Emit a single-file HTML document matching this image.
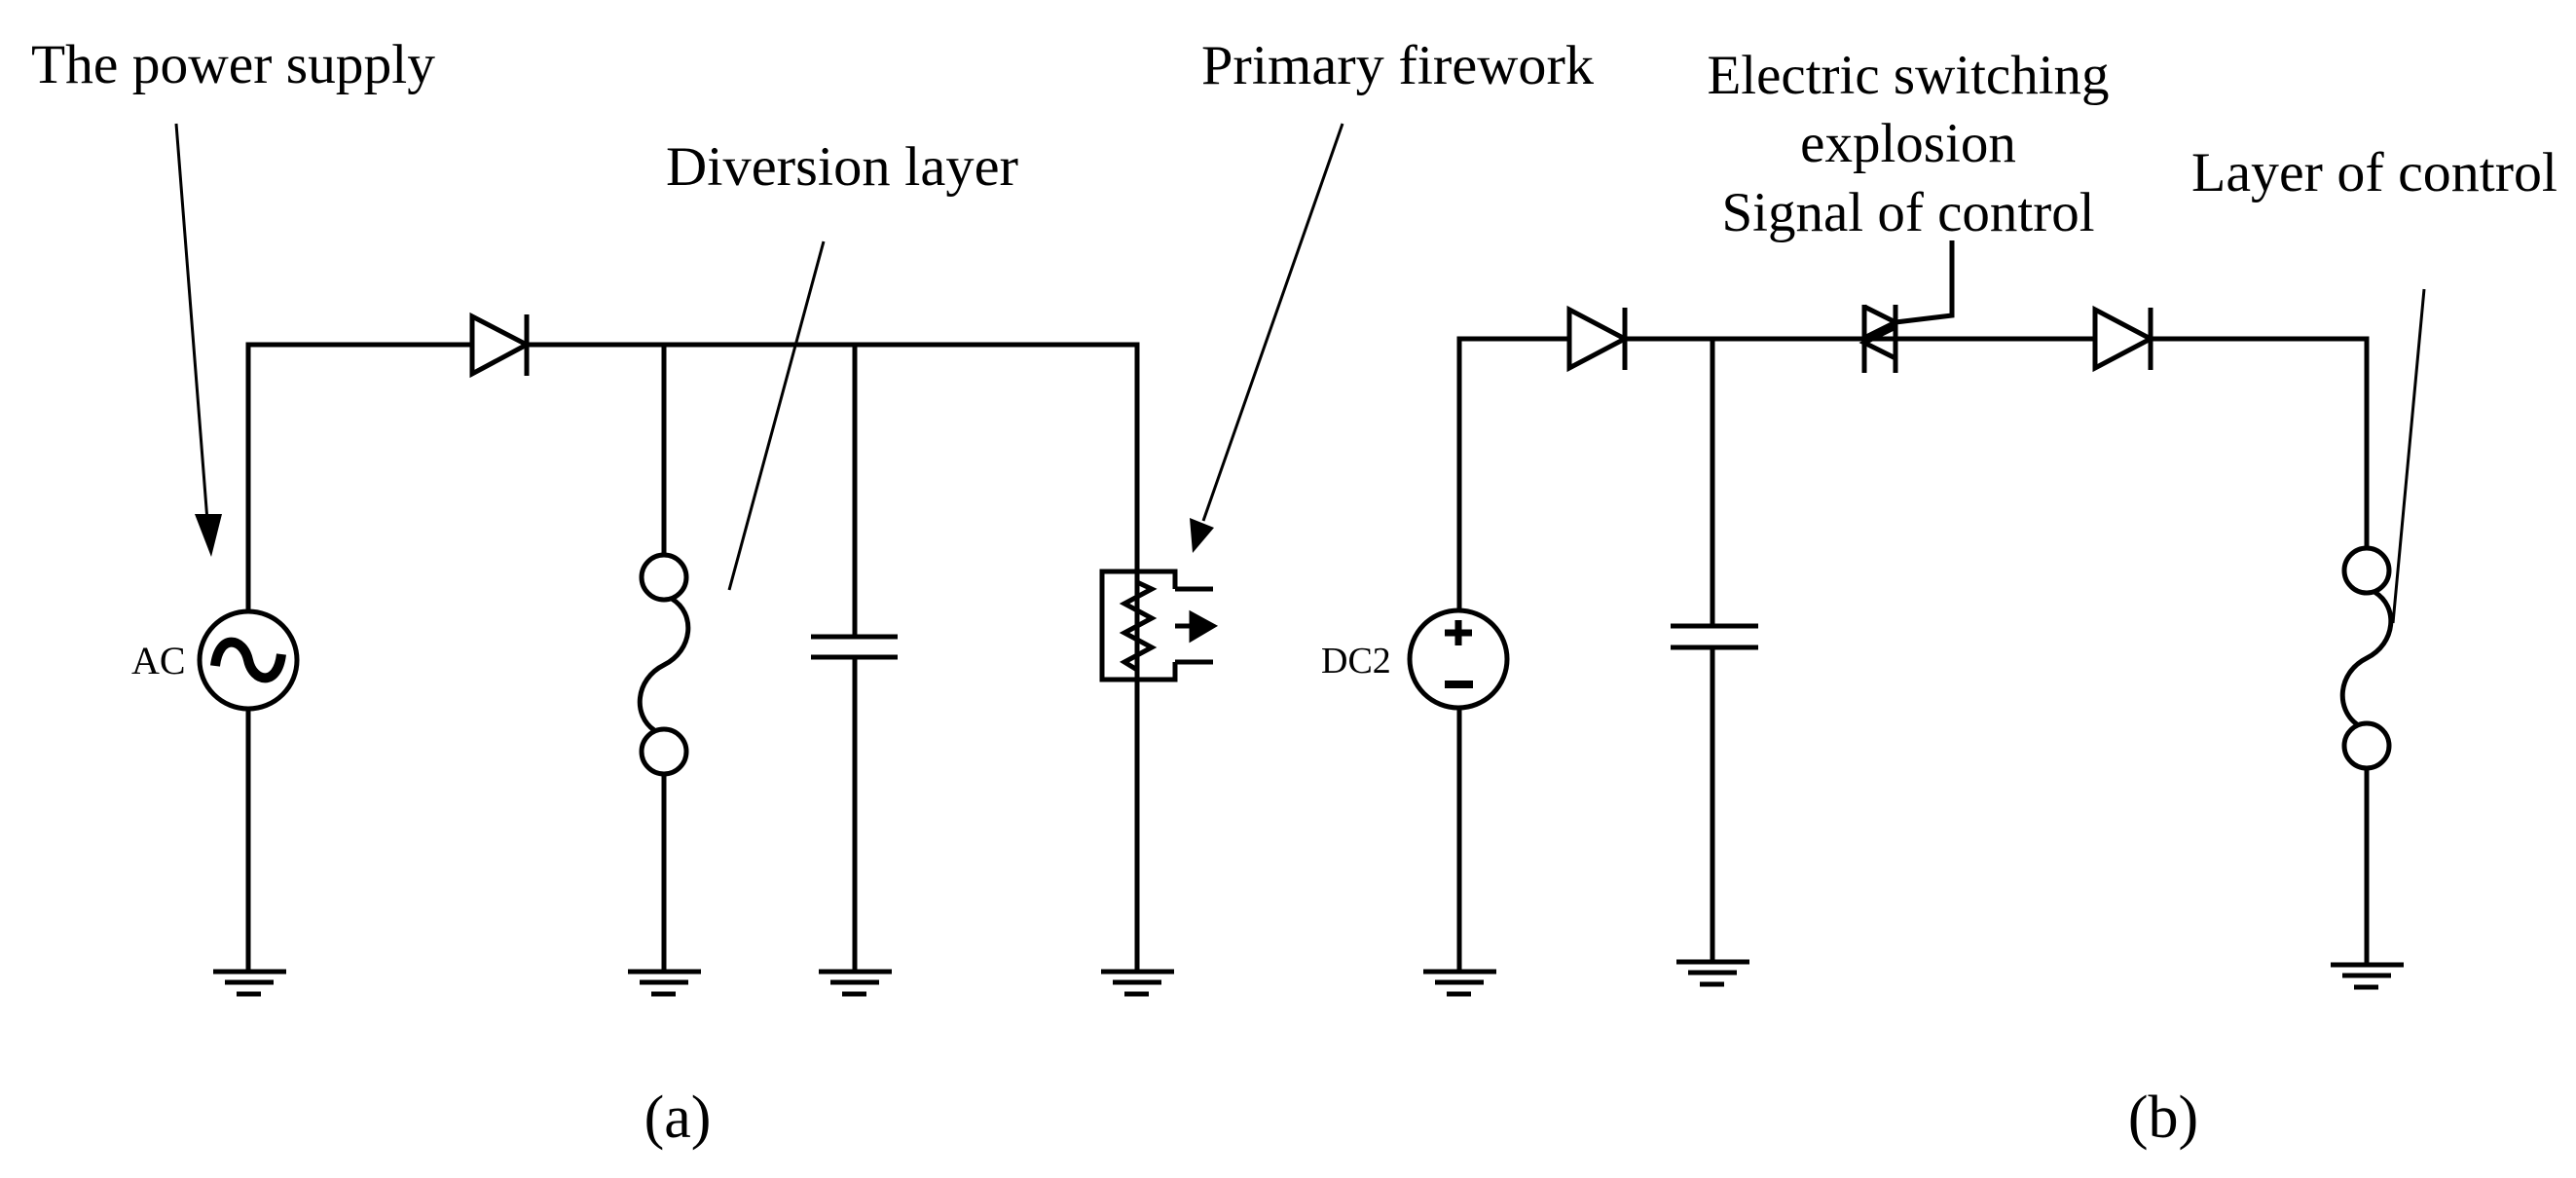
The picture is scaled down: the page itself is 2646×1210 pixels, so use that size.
<!DOCTYPE html>
<html><head><meta charset="utf-8"><style>
html,body{margin:0;padding:0;background:#fff;}
svg{display:block;}
text{font-family:"Liberation Serif",serif;fill:#000;}
</style></head><body>
<svg width="2646" height="1210" viewBox="0 0 2646 1210" xmlns="http://www.w3.org/2000/svg">
<g stroke="#000" stroke-width="5" fill="none" stroke-linejoin="miter">
<!-- ===== (a) ===== -->
<polyline points="255,628 255,354 1168,354 1168,587"/>
<line x1="255" y1="728" x2="255" y2="998"/>
<!-- diode -->
<polygon points="485,325 485,384 541,354" fill="#fff"/>
<line x1="541" y1="323" x2="541" y2="386"/>
<!-- AC source -->
<circle cx="255" cy="678" r="50"/>
<path d="M221,684 C225,650 250,655 255,678 C260,701 285,706 289,672" stroke-width="10"/>
<!-- fuse branch -->
<line x1="682" y1="354" x2="682" y2="570"/>
<circle cx="682" cy="593" r="23"/>
<path d="M690,615 C715,630 712,668 682,683 C652,698 650,735 672,750"/>
<circle cx="682" cy="772" r="23"/>
<line x1="682" y1="795" x2="682" y2="998"/>
<!-- capacitor -->
<line x1="878" y1="354" x2="878" y2="654"/>
<line x1="833" y1="654" x2="922" y2="654"/>
<line x1="833" y1="675" x2="922" y2="675"/>
<line x1="878" y1="675" x2="878" y2="998"/>
<!-- firework -->
<polyline points="1207,605 1207,587 1132,587 1132,698 1207,698 1207,680"/>
<line x1="1207" y1="605" x2="1246" y2="605"/>
<line x1="1207" y1="680" x2="1246" y2="680"/>
<line x1="1168" y1="587" x2="1168" y2="998"/>
<polyline points="1168,598 1183,605 1155,620 1183,635 1155,650 1183,665 1155,680 1168,688"/>
<line x1="1207" y1="643" x2="1228" y2="643"/>
<polygon points="1224,631 1246,643 1224,656" fill="#000"/>
<!-- grounds a -->
<g id="gnd">
</g>
<!-- annotation lines a -->
<line x1="181" y1="127" x2="213" y2="535" stroke-width="3"/>
<line x1="846" y1="248" x2="749" y2="606" stroke-width="3"/>
<line x1="1379" y1="127" x2="1236" y2="535" stroke-width="3"/>
<!-- ===== (b) ===== -->
<polyline points="1499,627 1499,348 2431,348 2431,563"/>
<line x1="1499" y1="727" x2="1499" y2="998"/>
<polygon points="1612,318 1612,378 1669,348" fill="#fff"/>
<line x1="1669" y1="316" x2="1669" y2="380"/>
<polygon points="2152,318 2152,378 2209,348" fill="#fff"/>
<line x1="2209" y1="316" x2="2209" y2="380"/>
<!-- triac -->
<line x1="1915" y1="313" x2="1915" y2="383"/>
<line x1="1947" y1="313" x2="1947" y2="383"/>
<polyline points="1915,315 1947,331 1915,347"/>
<polyline points="1947,336 1915,352 1947,368"/>
<polyline points="1947,331 2005,324 2005,247"/>
<!-- DC -->
<circle cx="1498" cy="677" r="50"/>
<line x1="1484" y1="650" x2="1512" y2="650" stroke-width="7"/>
<line x1="1498" y1="637" x2="1498" y2="663" stroke-width="7"/>
<line x1="1484" y1="703" x2="1513" y2="703" stroke-width="8"/>
<!-- cap b -->
<line x1="1759" y1="348" x2="1759" y2="643"/>
<line x1="1716" y1="643" x2="1806" y2="643"/>
<line x1="1716" y1="665" x2="1806" y2="665"/>
<line x1="1759" y1="665" x2="1759" y2="988"/>
<!-- fuse b -->
<circle cx="2431" cy="586" r="23"/>
<path d="M2439,608 C2464,623 2461,661 2431,676 C2401,691 2399,728 2421,744"/>
<circle cx="2431" cy="766" r="23"/>
<line x1="2431" y1="789" x2="2431" y2="991"/>
<line x1="2490" y1="297" x2="2458" y2="640" stroke-width="3"/>
</g>
<!-- arrowheads -->
<polygon points="200,528 228,528 217,572" fill="#000"/>
<polygon points="1222,532 1247,542 1225,568" fill="#000"/>
<!-- grounds -->
<g stroke="#000" stroke-width="5">
<line x1="219" y1="998" x2="294" y2="998"/><line x1="231" y1="1009" x2="281" y2="1009"/><line x1="243" y1="1021" x2="268" y2="1021"/>
<line x1="645" y1="998" x2="720" y2="998"/><line x1="657" y1="1009" x2="707" y2="1009"/><line x1="669" y1="1021" x2="694" y2="1021"/>
<line x1="841" y1="998" x2="916" y2="998"/><line x1="853" y1="1009" x2="903" y2="1009"/><line x1="865" y1="1021" x2="890" y2="1021"/>
<line x1="1131" y1="998" x2="1206" y2="998"/><line x1="1143" y1="1009" x2="1193" y2="1009"/><line x1="1155" y1="1021" x2="1180" y2="1021"/>
<line x1="1462" y1="998" x2="1537" y2="998"/><line x1="1474" y1="1009" x2="1524" y2="1009"/><line x1="1486" y1="1021" x2="1511" y2="1021"/>
<line x1="1722" y1="988" x2="1797" y2="988"/><line x1="1734" y1="999" x2="1784" y2="999"/><line x1="1746" y1="1011" x2="1771" y2="1011"/>
<line x1="2394" y1="991" x2="2469" y2="991"/><line x1="2406" y1="1002" x2="2456" y2="1002"/><line x1="2418" y1="1014" x2="2443" y2="1014"/>
</g>
<!-- labels -->
<text x="32" y="85" font-size="57" textLength="415" lengthAdjust="spacingAndGlyphs">The power supply</text>
<text x="684" y="190" font-size="57" textLength="362" lengthAdjust="spacingAndGlyphs">Diversion layer</text>
<text x="1234" y="86" font-size="57" textLength="403" lengthAdjust="spacingAndGlyphs">Primary firework</text>
<text x="1960" y="96" font-size="57" text-anchor="middle">Electric switching</text>
<text x="1960" y="166" font-size="57" text-anchor="middle">explosion</text>
<text x="1960" y="237" font-size="57" text-anchor="middle">Signal of control</text>
<text x="2251" y="196" font-size="57" textLength="376" lengthAdjust="spacingAndGlyphs">Layer of control</text>
<text x="135" y="692" font-size="40">AC</text>
<text x="1357" y="691" font-size="38">DC2</text>
<text x="696" y="1168" font-size="62" text-anchor="middle">(a)</text>
<text x="2222" y="1168" font-size="62" text-anchor="middle">(b)</text>
</svg>
</body></html>
